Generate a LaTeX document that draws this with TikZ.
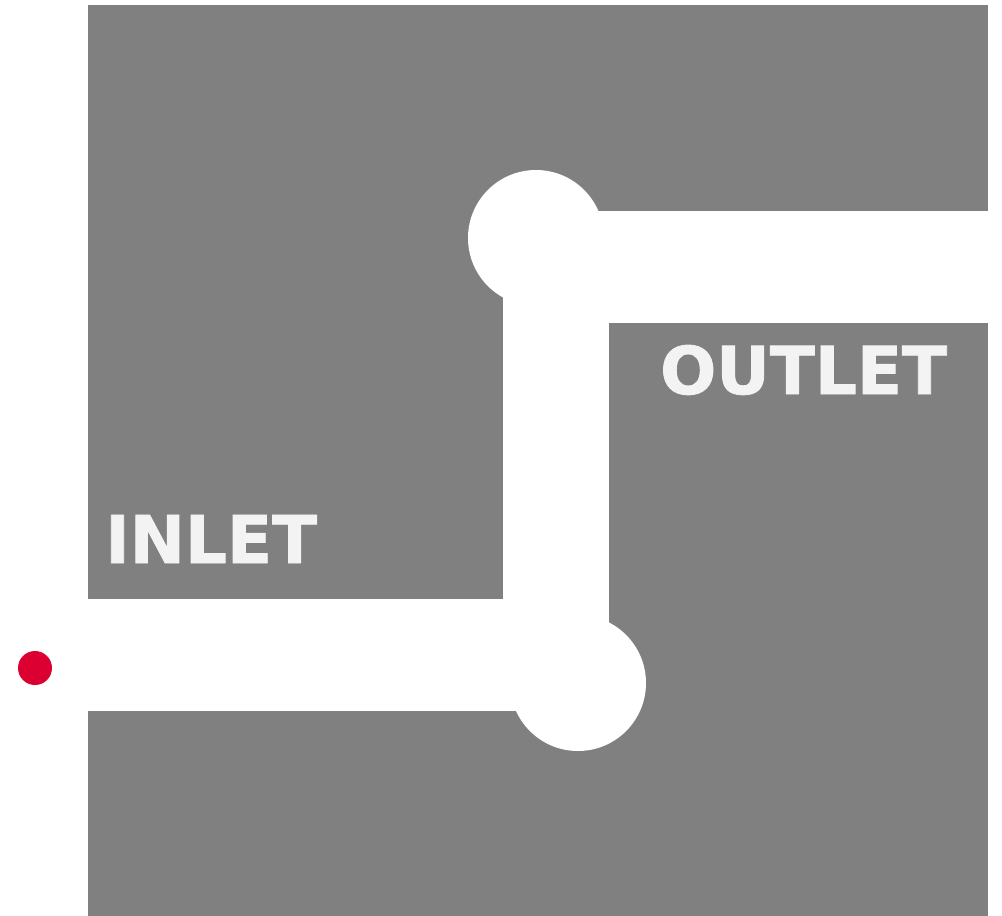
\documentclass[tikz,border=0pt]{standalone}
\usepackage{fontspec}
\usepackage{xcolor}
\newfontfamily\labelfont{DejaVu Sans Bold}[FakeBold=1.2]
\definecolor{wallgray}{RGB}{128,128,128}
\definecolor{labelwhite}{RGB}{243,243,243}
\definecolor{probered}{RGB}{220,0,50}
\tikzset{
  channel/.style={fill=white, draw=none},
  portlabel/.style={anchor=base west, inner sep=0pt, text=labelwhite,
    font=\labelfont\fontsize{66}{66}\selectfont}
}

\begin{document}
\begin{tikzpicture}[x=1pt,y=-1pt]
\useasboundingbox (0,0) rectangle (1002,916);
% solid block
\fill[wallgray] (88,5) rectangle (988,916);
% channel
\fill[channel] (88,599) rectangle (578,711);
\fill[channel] (503,238) rectangle (609,683);
\fill[channel] (536,211) rectangle (988,323);
\fill[channel] (536,238) circle[radius=68pt];
\fill[channel] (578,683) circle[radius=68pt];
% probe
\fill[probered] (35,668) circle[radius=17pt];
% labels
\node[portlabel] (inlet) at (105,563) {INLET};
\node[portlabel] (outlet) at (660,394) {OUTLET};
\end{tikzpicture}
\end{document}
